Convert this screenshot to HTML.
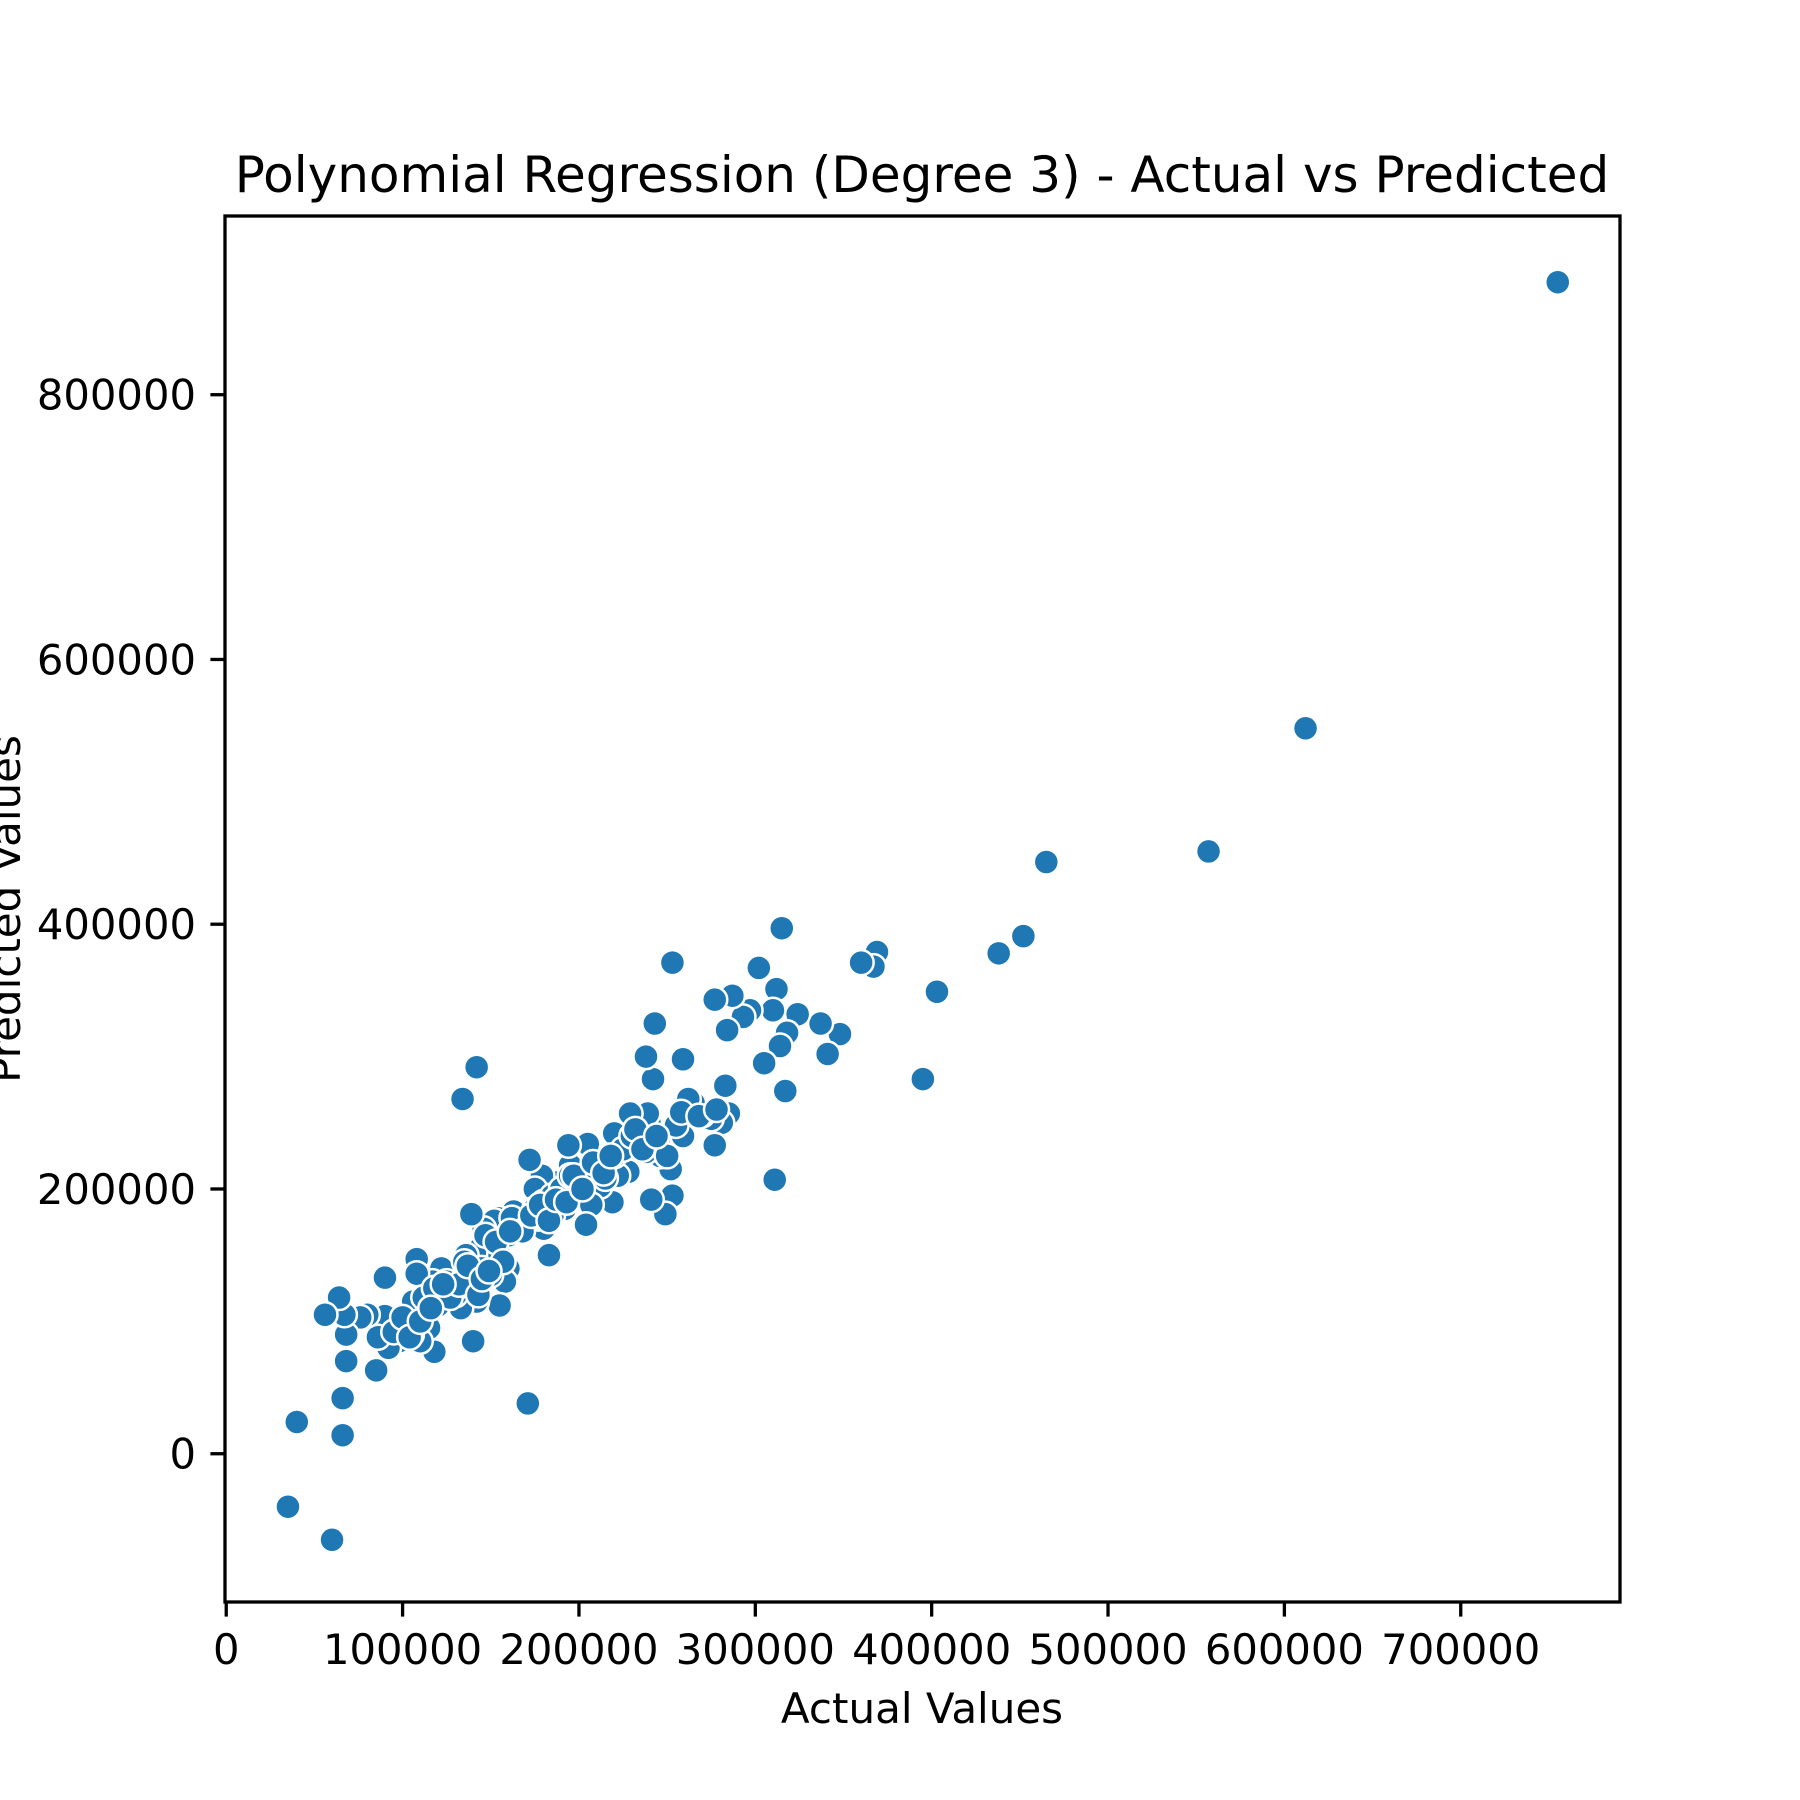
<!DOCTYPE html>
<html><head><meta charset="utf-8"><style>
html,body{margin:0;padding:0;background:#fff;}
svg{display:block;font-family:"DejaVu Sans","Liberation Sans",sans-serif;}
</style></head><body>
<svg id="chart" width="1800" height="1800" viewBox="0 0 1800 1800">
<rect width="1800" height="1800" fill="#fff"/>
<text x="922" y="192" font-size="50" text-anchor="middle">Polynomial Regression (Degree 3) - Actual vs Predicted</text>
<text x="922" y="1723" font-size="42" text-anchor="middle">Actual Values</text>
<text transform="translate(20,909) rotate(-90)" font-size="42" text-anchor="middle">Predicted Values</text>
<g id="points"></g>
<g id="axes"></g>
</svg>
<script>
const actualValues = [755000,612000,557000,465000,452000,438000,403000,395000,369000,367000,360000,348000,341000,337000,324000,315000,317000,318000,314000,312000,310000,311000,305000,302000,297000,293000,287000,284000,283000,285000,281000,277000,277000,275000,270000,265000,262000,259000,259000,255000,253000,253000,252000,249000,246000,243000,242000,241000,240000,239000,238000,238000,235000,229000,228000,225000,222000,220000,219000,215000,212000,207000,205000,204000,201000,198000,195000,194000,192000,190000,188000,185000,183000,180000,179000,177000,175000,172000,171000,170000,165000,163000,160000,158000,155000,154000,152000,150000,148000,146000,144000,142000,142000,140000,139000,138000,136000,134000,133000,130000,128000,125000,122000,118000,117000,115000,113000,110000,108000,108000,106000,105000,103000,100000,98000,92000,90000,90000,86000,85000,80000,76000,68000,68000,67000,66000,66000,64000,56000,40000,35000,60000,
130000,135000,140000,145000,150000,155000,160000,165000,170000,175000,180000,185000,190000,195000,200000,210000,215000,220000,225000,230000,245000,250000,120000,125000,112000,118000,127000,132000,143000,147000,153000,157000,162000,168000,173000,178000,183000,187000,193000,197000,202000,208000,214000,218000,232000,236000,244000,258000,268000,278000,95000,100000,104000,110000,116000,123000,137000,145000,149000,161000];
const predictedValues = [885000,548000,455000,447000,391000,378000,349000,283000,379000,368000,371000,317000,302000,325000,332000,397000,274000,318000,308000,351000,335000,207000,295000,367000,335000,330000,346000,320000,278000,257000,250000,343000,233000,253000,256000,265000,268000,298000,240000,248000,371000,195000,215000,181000,225000,325000,283000,192000,250000,257000,300000,228000,240000,257000,213000,235000,210000,242000,190000,220000,202000,188000,234000,173000,215000,205000,218000,233000,185000,195000,205000,180000,150000,170000,210000,178000,200000,222000,38000,182000,170000,183000,140000,130000,112000,178000,176000,160000,143000,170000,155000,292000,115000,85000,181000,135000,150000,268000,110000,120000,138000,122000,140000,77000,130000,95000,122000,85000,147000,136000,115000,90000,100000,95000,85000,80000,133000,104000,88000,63000,105000,103000,90000,70000,105000,42000,14000,118000,105000,24000,-40000,-65000,
125000,145000,128000,140000,135000,150000,165000,172000,175000,185000,190000,195000,200000,210000,205000,215000,208000,225000,230000,240000,235000,225000,112000,130000,118000,125000,118000,128000,120000,165000,160000,145000,178000,168000,180000,188000,176000,192000,190000,210000,200000,220000,212000,225000,245000,230000,240000,258000,255000,260000,92000,103000,88000,100000,110000,128000,142000,132000,138000,168000];
const xTicks = [0,100000,200000,300000,400000,500000,600000,700000];
const yTicks = [0,200000,400000,600000,800000];

const L=225,R=1620,T=216,B=1602;
const xMin=-700, xMax=790300, yMin=-112000, yMax=935000;
function xs(v){return L+(v-xMin)/(xMax-xMin)*(R-L);}
function ys(v){return B-(v-yMin)/(yMax-yMin)*(B-T);}
const NS="http://www.w3.org/2000/svg";
const pg=document.getElementById('points');
for(let i=0;i<actualValues.length;i++){
  const c=document.createElementNS(NS,'circle');
  c.setAttribute('cx',xs(actualValues[i]));
  c.setAttribute('cy',ys(predictedValues[i]));
  c.setAttribute('r',12.5);
  c.setAttribute('fill','#1f77b4');
  c.setAttribute('stroke','#fff');
  c.setAttribute('stroke-width',2.5);
  
  
  pg.appendChild(c);
}
const ag=document.getElementById('axes');
const frame=document.createElementNS(NS,'rect');
frame.setAttribute('x',L);frame.setAttribute('y',T);
frame.setAttribute('width',R-L);frame.setAttribute('height',B-T);
frame.setAttribute('fill','none');frame.setAttribute('stroke','#000');frame.setAttribute('stroke-width',3.3);


ag.appendChild(frame);
xTicks.forEach(v=>{
  const x=xs(v);
  const l=document.createElementNS(NS,'line');
  l.setAttribute('x1',x);l.setAttribute('x2',x);l.setAttribute('y1',B);l.setAttribute('y2',B+14.6);
  l.setAttribute('stroke','#000');l.setAttribute('stroke-width',3.3);
  
  
  ag.appendChild(l);
  const t=document.createElementNS(NS,'text');
  t.setAttribute('x',x);t.setAttribute('y',B+62);t.setAttribute('font-size',41.7);t.setAttribute('text-anchor','middle');
  t.textContent=String(v);
  
  
  ag.appendChild(t);
});
yTicks.forEach(v=>{
  const y=ys(v);
  const l=document.createElementNS(NS,'line');
  l.setAttribute('x1',L-14.6);l.setAttribute('x2',L);l.setAttribute('y1',y);l.setAttribute('y2',y);
  l.setAttribute('stroke','#000');l.setAttribute('stroke-width',3.3);
  
  
  ag.appendChild(l);
  const t=document.createElementNS(NS,'text');
  t.setAttribute('x',L-29);t.setAttribute('y',y+15);t.setAttribute('font-size',41.7);t.setAttribute('text-anchor','end');
  t.textContent=String(v);
  
  
  ag.appendChild(t);
});
</script>
</body></html>
